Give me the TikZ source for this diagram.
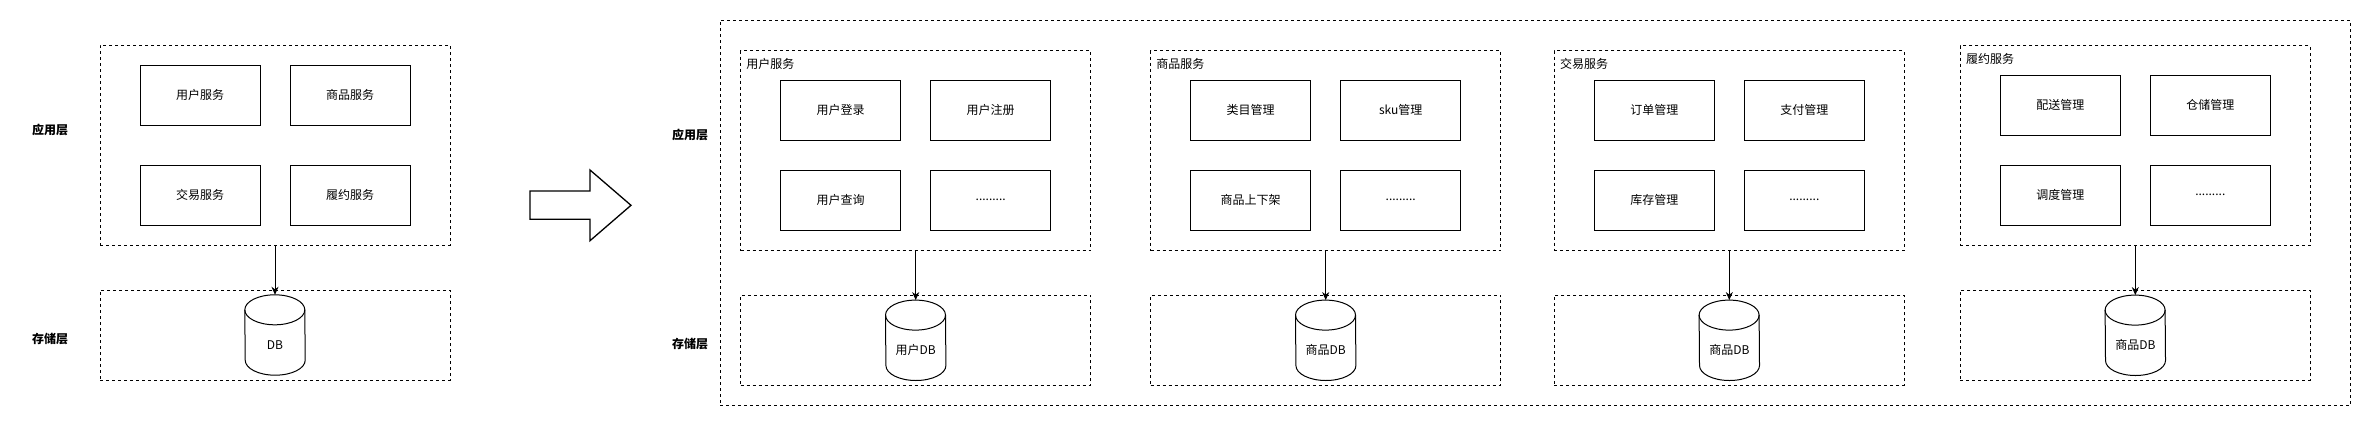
\documentclass[tikz,border=0pt]{standalone}
\usepackage{fontspec}
\setmainfont{Noto Sans CJK SC}
\usetikzlibrary{arrows.meta}
\tikzset{
  dashbox/.style={draw=black, line width=1pt, dash pattern=on 3pt off 3pt, inner sep=0pt},
  svcbox/.style={draw=black, line width=1pt, minimum width=120pt, minimum height=60pt, inner sep=0pt, font=\fontsize{12pt}{14pt}\selectfont},
  dbnode/.style={minimum width=60pt, minimum height=80pt, inner sep=0pt},
  dbtext/.style={inner sep=0pt, font=\fontsize{12pt}{14pt}\selectfont},
  layerlabel/.style={inner sep=0pt, font=\fontsize{12pt}{14pt}\selectfont\bfseries},
  grouptitle/.style={inner sep=0pt, anchor=west, font=\fontsize{12pt}{14pt}\selectfont},
  conn/.style={draw=black, line width=1pt, -{Stealth[length=8pt,width=7pt,inset=2.5pt]}},
  cylline/.style={draw=black, line width=1pt}
}
\newcommand\dbcyl[4]{%
  \node[dbnode] (#1) at (#2,#3) {};
  \draw[cylline] ([yshift=-15pt]#1.north west) arc[start angle=180, end angle=0, x radius=30pt, y radius=15pt]
    -- ([yshift=15pt]#1.south east) arc[start angle=0, end angle=-180, x radius=30pt, y radius=15pt] -- cycle;
  \draw[cylline] ([yshift=-15pt]#1.north west) arc[start angle=180, end angle=360, x radius=30pt, y radius=15pt];
  \node[dbtext] (#1t) at ([yshift=-10pt]#1.center) {#4};
}
\newcommand\svcgroup[9]{%
  \node[dashbox, minimum width=350pt, minimum height=200pt] (#1g) at ({#2+175},{#3+100}) {};
  \node[grouptitle] (#1title) at ({#2+5.5},{#3+13.5}) {#4};
  \node[svcbox] (#1a) at ({#2+100},{#3+59.6}) {#5};
  \node[svcbox] (#1b) at ({#2+250},{#3+59.6}) {#6};
  \node[svcbox] (#1c) at ({#2+100},{#3+149.6}) {#7};
  \node[svcbox] (#1d) at ({#2+250},{#3+149.6}) {#8};
  \node[dashbox, minimum width=350pt, minimum height=90pt] (#1s) at ({#2+175},{#3+289.6}) {};
  \dbcyl{#1db}{#2+175}{#3+289.6}{#9}
  \draw[conn] (#1g.south) -- (#1db.north);
}
\begin{document}
\begin{tikzpicture}[x=1pt, y=-1pt]
\useasboundingbox (0,0) rectangle (2371,426);
% ---------- left diagram ----------
\node[dashbox, minimum width=350pt, minimum height=200pt] (appL) at (275,145) {};
\node[svcbox] (u) at (200,95) {用户服务};
\node[svcbox] (p) at (350,95) {商品服务};
\node[svcbox] (t) at (200,195) {交易服务};
\node[svcbox] (f) at (350,195) {履约服务};
\node[dashbox, minimum width=350pt, minimum height=90pt] (storL) at (275,335) {};
\dbcyl{dbL}{275}{335}{DB}
\draw[conn] (appL.south) -- (dbL.north);
\node[layerlabel] (appLlab) at (50,130) {应用层};
\node[layerlabel] (storLlab) at (50,339) {存储层};
% ---------- big arrow ----------
\draw[line width=1.3pt, line join=miter] (530,191) -- (590,191) -- (590,170) -- (631,205.3) -- (590,240.7) -- (590,219.3) -- (530,219.3) -- cycle;
% ---------- right diagram ----------
\node[dashbox, minimum width=1630pt, minimum height=385.7pt] (outer) at (1535,212.85) {};
\node[layerlabel] (appRlab) at (690,135) {应用层};
\node[layerlabel] (storRlab) at (690,344) {存储层};
\svcgroup{g1}{740.7}{50.7}{用户服务}{用户登录}{用户注册}{用户查询}{.........}{用户DB}
\svcgroup{g2}{1150.7}{50.7}{商品服务}{类目管理}{sku管理}{商品上下架}{.........}{商品DB}
\svcgroup{g3}{1554.3}{50.7}{交易服务}{订单管理}{支付管理}{库存管理}{.........}{商品DB}
\svcgroup{g4}{1960.3}{45.7}{履约服务}{配送管理}{仓储管理}{调度管理}{.........}{商品DB}
\end{tikzpicture}
\end{document}
